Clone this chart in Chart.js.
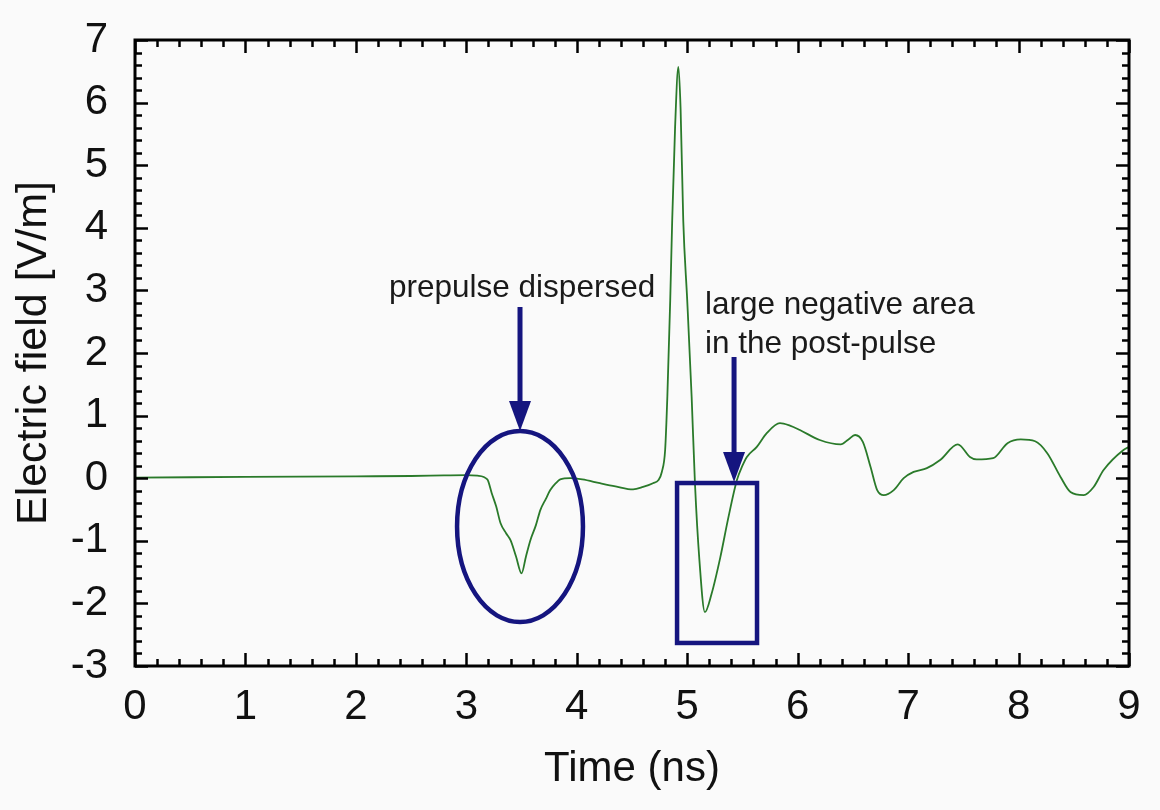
<!DOCTYPE html>
<html><head><meta charset="utf-8">
<script src="https://cdn.jsdelivr.net/npm/chart.js@4/dist/chart.umd.min.js"></script>
<style>html,body{margin:0;padding:0;background:#fafafa;overflow:hidden;}</style>
</head><body>
<canvas id="c" width="1160" height="810"></canvas>
<script>
// ---- data ----
const times = [0, 0.5, 1, 1.5, 2, 2.5, 2.8, 3.0, 3.1, 3.19, 3.23, 3.27, 3.31, 3.36, 3.40, 3.45, 3.50, 3.54, 3.58, 3.63, 3.67, 3.72, 3.76, 3.81, 3.85, 3.94, 4.05, 4.21, 4.35, 4.51, 4.60, 4.69, 4.74, 4.77, 4.80, 4.82, 4.846, 4.864, 4.89, 4.92, 4.94, 4.964, 5.0, 5.04, 5.07, 5.11, 5.16, 5.22, 5.30, 5.37, 5.45, 5.50, 5.54, 5.63, 5.72, 5.84, 5.93, 6.02, 6.20, 6.39, 6.46, 6.52, 6.59, 6.66, 6.72, 6.78, 6.87, 6.96, 7.05, 7.17, 7.29, 7.45, 7.56, 7.62, 7.77, 7.90, 8.02, 8.15, 8.26, 8.38, 8.47, 8.59, 8.68, 8.77, 8.95, 9.0];
const field = [0.01, 0.015, 0.02, 0.025, 0.03, 0.035, 0.045, 0.05, 0.04, -0.02, -0.24, -0.45, -0.72, -0.88, -0.99, -1.25, -1.52, -1.25, -0.99, -0.75, -0.51, -0.33, -0.19, -0.08, -0.02, 0.0, -0.02, -0.08, -0.13, -0.18, -0.14, -0.08, -0.03, 0.1, 0.45, 1.3, 2.84, 4.12, 5.6, 6.57, 5.9, 4.12, 2.84, 1.3, -0.08, -1.3, -2.14, -1.85, -1.26, -0.65, -0.03, 0.2, 0.34, 0.50, 0.72, 0.88, 0.84, 0.77, 0.61, 0.54, 0.62, 0.69, 0.58, 0.18, -0.19, -0.27, -0.19, 0.0, 0.10, 0.16, 0.29, 0.54, 0.34, 0.30, 0.32, 0.56, 0.62, 0.59, 0.40, 0.02, -0.22, -0.27, -0.14, 0.13, 0.45, 0.5];
const xTickValues = [0, 1, 2, 3, 4, 5, 6, 7, 8, 9];
const yTickValues = [-3, -2, -1, 0, 1, 2, 3, 4, 5, 6, 7];
const xTitle = 'Time (ns)';
const yTitle = 'Electric field [V/m]';
const note1 = 'prepulse dispersed';
const note2 = ['large negative area', 'in the post-pulse'];

const FONT = '"Liberation Sans", Arial, Helvetica, sans-serif';
const NAVY = '#15157f';

const points = times.map((t, i) => ({x: t, y: field[i]}));

const bgPlugin = {
  id: 'bg',
  beforeDraw(chart) {
    const ctx = chart.ctx;
    ctx.save();
    ctx.fillStyle = '#fafafa';
    ctx.fillRect(0, 0, chart.width, chart.height);
    ctx.restore();
  }
};

const framePlugin = {
  id: 'frame',
  afterDatasetsDraw(chart) {
    const ctx = chart.ctx;
    const xs = chart.scales.x, ys = chart.scales.y;
    const a = chart.chartArea;
    ctx.save();
    ctx.strokeStyle = '#000';
    ctx.lineWidth = 2.5;
    // inward ticks
    const minorStep = 0.2;
    for (let v = xs.min; v <= xs.max + 1e-9; v += minorStep) {
      const major = Math.abs(v - Math.round(v)) < 1e-6;
      const len = major ? 13 : 7;
      const px = Math.round(xs.getPixelForValue(v)) + 0.5;
      ctx.beginPath();
      ctx.moveTo(px, a.bottom); ctx.lineTo(px, a.bottom - len);
      ctx.moveTo(px, a.top); ctx.lineTo(px, a.top + len);
      ctx.stroke();
    }
    for (let v = ys.min; v <= ys.max + 1e-9; v += minorStep) {
      const major = Math.abs(v - Math.round(v)) < 1e-6;
      const len = major ? 13 : 7;
      const py = Math.round(ys.getPixelForValue(v)) + 0.5;
      ctx.beginPath();
      ctx.moveTo(a.left, py); ctx.lineTo(a.left + len, py);
      ctx.moveTo(a.right, py); ctx.lineTo(a.right - len, py);
      ctx.stroke();
    }
    ctx.lineWidth = 3;
    ctx.strokeRect(a.left, a.top, a.right - a.left, a.bottom - a.top);

    // annotations
    const X = v => xs.getPixelForValue(v);
    const Y = v => ys.getPixelForValue(v);
    ctx.strokeStyle = NAVY;
    ctx.fillStyle = NAVY;
    // ellipse around prepulse
    const cx = X(3.486), cy = Y(-0.772);
    const rx = X(3.486 + 0.570) - cx, ry = Y(-0.772) - Y(-0.772 + 1.526);
    ctx.lineWidth = 4.5;
    ctx.beginPath();
    ctx.ellipse(cx, cy, rx, ry, 0, 0, Math.PI * 2);
    ctx.stroke();
    // rectangle around post-pulse
    const rl = X(4.908), rr = X(5.632), rt = Y(-0.077), rb = Y(-2.632);
    ctx.strokeRect(rl, rt, rr - rl, rb - rt);
    // arrows
    function arrow(xv, y0v, y1v) {
      const x = X(xv), y0 = Y(y0v), y1 = Y(y1v);
      const headH = 30, headW = 11;
      ctx.lineWidth = 5;
      ctx.beginPath();
      ctx.moveTo(x, y0); ctx.lineTo(x, y1 - headH + 2);
      ctx.stroke();
      ctx.beginPath();
      ctx.moveTo(x - headW, y1 - headH);
      ctx.lineTo(x + headW, y1 - headH);
      ctx.lineTo(x, y1);
      ctx.closePath();
      ctx.fill();
    }
    arrow(3.486, 2.735, 0.754);
    arrow(5.424, 1.936, -0.06);
    // texts
    ctx.fillStyle = '#1a1a1a';
    ctx.font = '31.5px ' + FONT;
    ctx.textBaseline = 'alphabetic';
    ctx.textAlign = 'left';
    ctx.fillText(note1, X(2.30), Y(2.895));
    ctx.fillText(note2[0], X(5.161), Y(2.623));
    ctx.fillText(note2[1], X(5.161), Y(2.00));
    ctx.restore();
  }
};

new Chart(document.getElementById('c'), {
  type: 'line',
  data: {
    datasets: [{
      data: points,
      borderColor: '#2a7a2a',
      borderWidth: 1.8,
      pointRadius: 0,
      fill: false,
      cubicInterpolationMode: 'monotone'
    }]
  },
  options: {
    responsive: false,
    animation: false,
    devicePixelRatio: 1,
    layout: {padding: {top: 40, right: 31, left: 0, bottom: 0}},
    plugins: {legend: {display: false}, tooltip: {enabled: false}},
    scales: {
      x: {
        type: 'linear', min: 0, max: 9,
        afterBuildTicks: s => { s.ticks = xTickValues.map(v => ({value: v})); },
        ticks: {font: {size: 42, family: FONT}, color: '#111', padding: 16, maxRotation: 0},
        grid: {display: false, drawTicks: false, tickLength: 0},
        border: {display: false},
        title: {display: true, text: xTitle, font: {size: 42, family: FONT}, color: '#111', padding: {top: 0, bottom: 15}},
        afterFit: s => { s.height = 144; s.paddingLeft = 0; s.paddingRight = 0; }
      },
      y: {
        type: 'linear', min: -3, max: 7,
        afterBuildTicks: s => { s.ticks = yTickValues.map(v => ({value: v})); },
        ticks: {font: {size: 42, family: FONT}, color: '#111', padding: 27},
        grid: {display: false, drawTicks: false, tickLength: 0},
        border: {display: false},
        title: {display: true, text: yTitle, font: {size: 43, family: FONT}, color: '#111', padding: {top: 8, bottom: 0}},
        afterFit: s => { s.width = 135; s.paddingTop = 0; s.paddingBottom = 0; }
      }
    }
  },
  plugins: [bgPlugin, framePlugin]
});
</script>
</body></html>
